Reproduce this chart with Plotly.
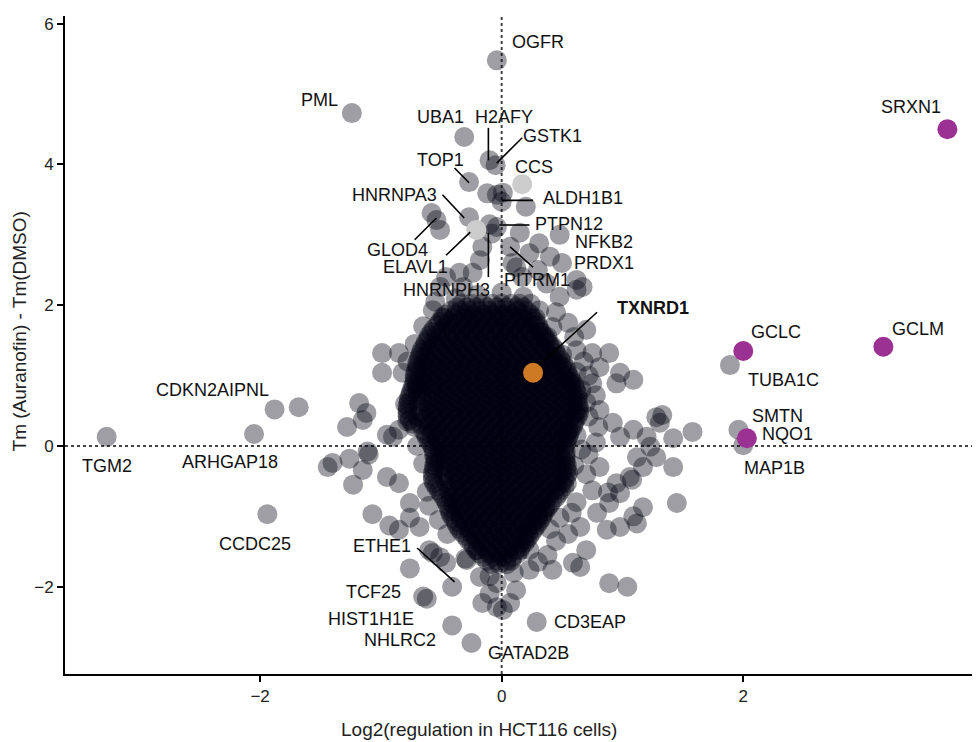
import plotly.graph_objects as go

# ---------------- data ----------------
# dense central cloud, listed row by row: (Tm shift, [log2 regulation values])
core_rows = [
    (2.02, [-0.33, -0.25, -0.16, -0.08, 0.0, 0.08, 0.15]),
    (1.97, [-0.37, -0.29, -0.21, -0.12, -0.04, 0.04, 0.12, 0.18]),
    (1.92, [-0.42, -0.34, -0.27, -0.19, -0.11, -0.03, 0.05, 0.13, 0.21]),
    (1.87, [-0.46, -0.38, -0.30, -0.23, -0.15, -0.07, 0.01, 0.09, 0.17, 0.24]),
    (1.82, [-0.48, -0.40, -0.31, -0.23, -0.15, -0.07, 0.01, 0.09, 0.17, 0.25]),
    (1.77, [-0.51, -0.44, -0.35, -0.27, -0.19, -0.11, -0.03, 0.05, 0.13, 0.21, 0.28]),
    (1.72, [-0.53, -0.45, -0.37, -0.29, -0.21, -0.13, -0.05, 0.03, 0.11, 0.19, 0.27, 0.30]),
    (1.67, [-0.56, -0.49, -0.41, -0.33, -0.25, -0.17, -0.09, -0.01, 0.07, 0.15, 0.23, 0.31]),
    (1.62, [-0.58, -0.50, -0.41, -0.33, -0.25, -0.17, -0.09, -0.01, 0.07, 0.15, 0.23, 0.31, 0.33]),
    (1.57, [-0.60, -0.54, -0.45, -0.37, -0.29, -0.21, -0.13, -0.05, 0.03, 0.11, 0.19, 0.27, 0.35]),
    (1.52, [-0.61, -0.53, -0.45, -0.37, -0.29, -0.21, -0.13, -0.05, 0.03, 0.11, 0.19, 0.27, 0.35, 0.37]),
    (1.47, [-0.63, -0.57, -0.49, -0.41, -0.33, -0.25, -0.17, -0.09, -0.01, 0.07, 0.15, 0.23, 0.31, 0.39]),
    (1.42, [-0.64, -0.56, -0.48, -0.40, -0.32, -0.24, -0.16, -0.08, 0.0, 0.08, 0.16, 0.24, 0.32, 0.40, 0.42]),
    (1.37, [-0.66, -0.60, -0.52, -0.44, -0.36, -0.28, -0.20, -0.12, -0.04, 0.04, 0.12, 0.20, 0.28, 0.36, 0.44]),
    (1.32, [-0.67, -0.59, -0.51, -0.43, -0.35, -0.27, -0.19, -0.11, -0.03, 0.05, 0.13, 0.21, 0.29, 0.37, 0.45]),
    (1.27, [-0.68, -0.63, -0.55, -0.47, -0.39, -0.31, -0.23, -0.15, -0.07, 0.01, 0.09, 0.17, 0.25, 0.33, 0.41, 0.47]),
    (1.22, [-0.69, -0.61, -0.53, -0.45, -0.37, -0.29, -0.21, -0.13, -0.05, 0.03, 0.11, 0.19, 0.27, 0.35, 0.43, 0.49]),
    (1.17, [-0.70, -0.65, -0.57, -0.49, -0.41, -0.33, -0.25, -0.17, -0.09, -0.01, 0.07, 0.15, 0.23, 0.31, 0.39, 0.47, 0.51]),
    (1.12, [-0.70, -0.62, -0.54, -0.46, -0.38, -0.30, -0.22, -0.14, -0.06, 0.02, 0.10, 0.18, 0.26, 0.34, 0.42, 0.50, 0.53]),
    (1.07, [-0.71, -0.66, -0.58, -0.50, -0.42, -0.34, -0.26, -0.18, -0.10, -0.02, 0.06, 0.14, 0.22, 0.30, 0.38, 0.46, 0.54]),
    (1.02, [-0.72, -0.64, -0.56, -0.48, -0.40, -0.32, -0.24, -0.16, -0.08, 0.0, 0.08, 0.16, 0.24, 0.34, 0.42, 0.50, 0.55]),
    (0.97, [-0.72, -0.68, -0.60, -0.52, -0.44, -0.36, -0.28, -0.20, -0.12, -0.04, 0.04, 0.12, 0.20, 0.28, 0.36, 0.44, 0.52, 0.57]),
    (0.92, [-0.72, -0.64, -0.56, -0.48, -0.40, -0.32, -0.24, -0.16, -0.08, 0.0, 0.08, 0.16, 0.24, 0.32, 0.40, 0.48, 0.56, 0.58]),
    (0.87, [-0.73, -0.70, -0.62, -0.54, -0.46, -0.38, -0.30, -0.22, -0.14, -0.06, 0.02, 0.10, 0.18, 0.26, 0.34, 0.42, 0.50, 0.58, 0.60]),
    (0.82, [-0.74, -0.66, -0.58, -0.50, -0.42, -0.34, -0.26, -0.18, -0.10, -0.02, 0.06, 0.14, 0.22, 0.30, 0.38, 0.46, 0.54, 0.61]),
    (0.77, [-0.75, -0.70, -0.62, -0.54, -0.46, -0.38, -0.30, -0.22, -0.14, -0.06, 0.02, 0.10, 0.18, 0.26, 0.34, 0.42, 0.50, 0.58, 0.62]),
    (0.72, [-0.76, -0.66, -0.57, -0.49, -0.41, -0.33, -0.25, -0.17, -0.09, -0.01, 0.07, 0.15, 0.23, 0.31, 0.39, 0.47, 0.55, 0.63]),
    (0.67, [-0.77, -0.70, -0.61, -0.53, -0.45, -0.37, -0.29, -0.21, -0.13, -0.05, 0.03, 0.11, 0.19, 0.27, 0.35, 0.43, 0.51, 0.59, 0.63]),
    (0.62, [-0.77, -0.65, -0.57, -0.49, -0.41, -0.33, -0.25, -0.17, -0.09, -0.01, 0.07, 0.15, 0.23, 0.31, 0.39, 0.47, 0.55, 0.63]),
    (0.57, [-0.78, -0.69, -0.61, -0.53, -0.45, -0.37, -0.29, -0.21, -0.13, -0.05, 0.03, 0.11, 0.19, 0.27, 0.35, 0.43, 0.51, 0.59, 0.64]),
    (0.52, [-0.78, -0.63, -0.55, -0.47, -0.39, -0.31, -0.23, -0.15, -0.07, 0.01, 0.09, 0.17, 0.25, 0.33, 0.41, 0.49, 0.57, 0.64]),
    (0.47, [-0.78, -0.67, -0.59, -0.51, -0.43, -0.35, -0.27, -0.19, -0.11, -0.03, 0.05, 0.13, 0.21, 0.29, 0.37, 0.45, 0.53, 0.61, 0.64]),
    (0.42, [-0.78, -0.70, -0.62, -0.54, -0.46, -0.38, -0.30, -0.22, -0.14, -0.06, 0.02, 0.10, 0.18, 0.26, 0.34, 0.42, 0.50, 0.58, 0.63]),
    (0.37, [-0.76, -0.64, -0.56, -0.48, -0.40, -0.32, -0.24, -0.16, -0.08, 0.0, 0.08, 0.16, 0.24, 0.32, 0.40, 0.48, 0.56, 0.61]),
    (0.32, [-0.74, -0.68, -0.60, -0.52, -0.44, -0.36, -0.28, -0.20, -0.12, -0.04, 0.04, 0.12, 0.20, 0.28, 0.36, 0.44, 0.52, 0.60]),
    (0.27, [-0.72, -0.61, -0.53, -0.45, -0.37, -0.29, -0.21, -0.13, -0.05, 0.03, 0.11, 0.19, 0.27, 0.35, 0.43, 0.51, 0.59]),
    (0.22, [-0.65, -0.57, -0.49, -0.41, -0.33, -0.25, -0.17, -0.09, -0.01, 0.07, 0.15, 0.23, 0.31, 0.39, 0.47, 0.55, 0.57]),
    (0.17, [-0.63, -0.58, -0.50, -0.42, -0.34, -0.26, -0.18, -0.10, -0.02, 0.06, 0.14, 0.22, 0.30, 0.38, 0.46, 0.54, 0.56]),
    (0.12, [-0.62, -0.54, -0.46, -0.38, -0.30, -0.22, -0.14, -0.06, 0.02, 0.10, 0.18, 0.26, 0.34, 0.42, 0.50, 0.55]),
    (0.07, [-0.60, -0.54, -0.46, -0.38, -0.30, -0.22, -0.14, -0.06, 0.02, 0.10, 0.18, 0.26, 0.34, 0.42, 0.50, 0.54]),
    (0.02, [-0.58, -0.50, -0.42, -0.34, -0.26, -0.18, -0.10, -0.02, 0.06, 0.14, 0.22, 0.30, 0.38, 0.46, 0.53]),
    (-0.03, [-0.57, -0.52, -0.44, -0.36, -0.28, -0.20, -0.12, -0.04, 0.04, 0.12, 0.20, 0.28, 0.36, 0.44, 0.52]),
    (-0.08, [-0.56, -0.48, -0.40, -0.32, -0.24, -0.16, -0.08, 0.0, 0.08, 0.16, 0.24, 0.32, 0.40, 0.48, 0.53]),
    (-0.13, [-0.56, -0.51, -0.43, -0.35, -0.27, -0.19, -0.11, -0.03, 0.05, 0.13, 0.21, 0.29, 0.37, 0.45, 0.53]),
    (-0.18, [-0.55, -0.47, -0.39, -0.31, -0.23, -0.15, -0.07, 0.01, 0.09, 0.17, 0.25, 0.33, 0.41, 0.49, 0.53]),
    (-0.23, [-0.55, -0.51, -0.43, -0.35, -0.27, -0.19, -0.11, -0.03, 0.05, 0.13, 0.21, 0.29, 0.37, 0.45, 0.53]),
    (-0.28, [-0.56, -0.47, -0.39, -0.31, -0.23, -0.15, -0.07, 0.01, 0.09, 0.17, 0.25, 0.33, 0.41, 0.49, 0.54]),
    (-0.33, [-0.56, -0.50, -0.42, -0.34, -0.26, -0.18, -0.10, -0.02, 0.06, 0.14, 0.22, 0.30, 0.38, 0.46, 0.54]),
    (-0.38, [-0.57, -0.46, -0.38, -0.30, -0.22, -0.14, -0.06, 0.02, 0.10, 0.18, 0.26, 0.34, 0.42, 0.50, 0.55]),
    (-0.43, [-0.57, -0.48, -0.40, -0.32, -0.24, -0.16, -0.08, 0.0, 0.08, 0.16, 0.24, 0.32, 0.40, 0.48, 0.54]),
    (-0.48, [-0.57, -0.44, -0.36, -0.28, -0.20, -0.12, -0.04, 0.04, 0.12, 0.20, 0.28, 0.36, 0.44, 0.52]),
    (-0.53, [-0.56, -0.46, -0.38, -0.30, -0.22, -0.14, -0.06, 0.02, 0.10, 0.18, 0.26, 0.34, 0.42, 0.50, 0.54]),
    (-0.58, [-0.54, -0.42, -0.34, -0.26, -0.18, -0.10, -0.02, 0.06, 0.14, 0.22, 0.30, 0.38, 0.46, 0.52]),
    (-0.63, [-0.52, -0.44, -0.36, -0.28, -0.20, -0.12, -0.04, 0.04, 0.12, 0.20, 0.28, 0.36, 0.44, 0.49]),
    (-0.68, [-0.50, -0.40, -0.32, -0.24, -0.16, -0.08, 0.0, 0.08, 0.16, 0.24, 0.32, 0.40, 0.47]),
    (-0.73, [-0.48, -0.42, -0.34, -0.26, -0.18, -0.10, -0.02, 0.06, 0.14, 0.22, 0.30, 0.38, 0.45]),
    (-0.78, [-0.46, -0.38, -0.30, -0.22, -0.14, -0.06, 0.02, 0.10, 0.18, 0.26, 0.34, 0.42]),
    (-0.83, [-0.45, -0.40, -0.32, -0.24, -0.16, -0.08, 0.0, 0.08, 0.16, 0.24, 0.32, 0.40]),
    (-0.88, [-0.44, -0.36, -0.28, -0.20, -0.12, -0.04, 0.04, 0.12, 0.20, 0.28, 0.36, 0.38]),
    (-0.93, [-0.43, -0.38, -0.30, -0.22, -0.14, -0.06, 0.02, 0.10, 0.18, 0.26, 0.34, 0.36]),
    (-0.98, [-0.42, -0.34, -0.26, -0.18, -0.10, -0.02, 0.06, 0.14, 0.22, 0.30, 0.34]),
    (-1.03, [-0.40, -0.34, -0.26, -0.18, -0.10, -0.02, 0.06, 0.14, 0.22, 0.30, 0.33]),
    (-1.08, [-0.38, -0.30, -0.22, -0.14, -0.06, 0.02, 0.10, 0.18, 0.26, 0.31]),
    (-1.13, [-0.37, -0.31, -0.23, -0.15, -0.07, 0.01, 0.09, 0.17, 0.25, 0.29]),
    (-1.18, [-0.35, -0.27, -0.19, -0.11, -0.03, 0.05, 0.13, 0.21, 0.27]),
    (-1.23, [-0.33, -0.26, -0.18, -0.10, -0.02, 0.06, 0.14, 0.22, 0.25]),
    (-1.28, [-0.30, -0.22, -0.14, -0.06, 0.02, 0.10, 0.18, 0.23]),
    (-1.33, [-0.28, -0.21, -0.13, -0.05, 0.03, 0.11, 0.19, 0.21]),
    (-1.38, [-0.25, -0.17, -0.09, -0.01, 0.07, 0.15, 0.19]),
    (-1.43, [-0.23, -0.16, -0.08, 0.0, 0.08, 0.16]),
    (-1.48, [-0.20, -0.12, -0.04, 0.04, 0.12, 0.15]),
    (-1.53, [-0.18, -0.10, -0.02, 0.06, 0.13]),
    (-1.58, [-0.15, -0.07, 0.01, 0.09]),
    (-1.63, [-0.12, -0.04, 0.04, 0.08]),
    (-1.68, [-0.08, -0.02, 0.04]),
]

# proteins around and outside the central cloud: (log2 regulation, Tm shift)
periphery = [
    (-0.04, 5.48), (-1.24, 4.73), (-0.31, 4.39), (-0.10, 4.06), (-0.05, 3.99),
    (-0.27, 3.75), (-0.12, 3.59), (-0.04, 3.57), (0.01, 3.60), (0.00, 3.47),
    (0.20, 3.40), (-0.58, 3.31), (-0.54, 3.21), (-0.51, 3.07), (-0.27, 3.25),
    (-0.10, 3.15), (-0.04, 3.11), (-0.08, 3.02), (0.15, 3.03), (0.48, 3.00),
    (0.07, 2.83), (0.31, 2.88), (0.23, 2.74), (0.40, 2.69), (0.50, 2.60),
    (0.62, 2.36), (0.67, 2.26), (0.12, 2.54), (0.17, 2.40), (-0.16, 2.83),
    (-0.18, 2.64), (-0.24, 2.46), (-0.35, 2.46), (-0.46, 2.40), (-0.51, 2.26),
    (-0.32, 2.26), (0.09, 2.60), (0.30, 2.50), (0.37, 2.31), (0.48, 2.12),
    (0.62, 2.22), (-0.57, 1.93), (-0.49, 1.83), (0.31, 1.93), (0.42, 1.69),
    (0.70, 1.65), (0.62, 1.36), (0.75, 1.32), (0.89, 1.32), (0.81, 1.12),
    (0.98, 1.04), (1.09, 0.94), (0.95, 0.89), (0.75, 0.89), (0.81, 0.51),
    (0.80, 0.27), (-0.99, 1.32), (-0.85, 1.32), (-0.99, 1.04), (-0.82, 1.04),
    (-0.70, 0.84), (-1.18, 0.61), (-1.12, 0.47), (-1.15, 0.37), (-1.28, 0.27),
    (-0.85, 0.23), (-0.90, 0.13), (-0.95, 0.16), (-1.40, -0.24), (-1.26, -0.18),
    (-1.10, -0.12), (-1.11, -0.08), (-1.15, -0.34), (-1.23, -0.55), (-0.95, -0.44),
    (-0.85, -0.53), (-0.76, -0.81), (-1.07, -0.97), (-0.93, -1.13), (-0.76, -1.02),
    (-0.68, -1.15), (-0.85, -1.19), (-0.60, -1.48), (-0.51, -1.58), (-0.76, -1.74),
    (-0.57, -1.52), (-0.46, -1.66), (-0.41, -2.00), (-0.65, -2.14), (-0.62, -2.17),
    (-0.41, -2.55), (-0.25, -2.80), (0.29, -2.50), (-0.04, -1.95), (-0.10, -2.10),
    (-0.04, -2.29), (0.01, -2.33), (-0.16, -2.23), (0.07, -2.23), (0.12, -2.05),
    (0.23, -1.76), (0.42, -1.76), (0.65, -1.72), (0.89, -1.95), (1.04, -2.00),
    (-0.18, -1.86), (-0.29, -1.62), (0.23, -1.48), (-0.21, -1.48), (0.70, -1.48),
    (0.59, -1.66), (0.65, -1.15), (0.87, -1.19), (0.98, -1.15), (1.09, -1.00),
    (1.12, -1.10), (0.79, -0.95), (1.17, -0.87), (1.45, -0.81), (0.89, -0.81),
    (0.75, -0.63), (0.95, -0.53), (1.06, -0.44), (0.98, -0.67), (0.88, -0.66),
    (0.81, -0.30), (1.08, -0.48), (1.17, -0.30), (1.42, -0.30), (1.12, -0.16),
    (1.28, -0.16), (1.23, -0.01), (0.98, 0.13), (1.20, 0.13), (1.42, 0.11),
    (1.09, 0.23), (1.58, 0.20), (0.92, 0.33), (1.31, 0.33), (1.33, 0.44),
    (1.28, 0.41), (1.96, 0.23), (2.00, 0.01), (1.89, 1.15), (-3.27, 0.13),
    (-1.88, 0.52), (-1.68, 0.55), (-2.05, 0.17), (-1.94, -0.97), (-1.44, -0.30),
    (0.70, 0.62), (0.78, 0.72), (0.72, 0.42), (0.78, 0.05), (0.72, -0.12),
    (0.70, -0.40), (0.62, -0.80), (0.58, -0.95), (0.55, -1.25), (0.45, -1.35),
    (0.38, -1.55), (-0.45, -1.25), (-0.52, -1.05), (-0.60, -0.85), (-0.62, -0.65),
    (-0.65, -0.25), (-0.70, 0.00), (-0.78, 0.35), (-0.80, 0.60), (-0.78, 1.20),
    (-0.72, 1.45), (-0.65, 1.70), (-0.55, 2.05), (-0.38, 2.10), (-0.20, 2.15),
    (0.00, 2.18), (0.18, 2.12), (0.45, 1.90), (0.55, 1.75), (0.60, 1.55),
    (0.68, 1.20), (0.72, 1.00), (-0.30, -1.60), (0.30, -1.65), (-0.10, -1.85),
    (0.10, -1.80), (0.38, 1.55), (0.50, 1.30), (0.62, 1.05), (0.66, 0.80),
    (0.62, 0.15), (0.66, -0.05), (0.60, -0.28), (0.48, -1.02), (0.40, -1.18),
    (0.28, 1.82), (0.24, 2.02),
]

# proteins without a regulation class (light grey)
na_x = [0.17, -0.21]
na_y = [3.72, 3.07]

# NRF2 targets (magenta)
nrf2_genes = ["SRXN1", "GCLC", "GCLM", "NQO1"]
nrf2_x = [3.69, 2.00, 3.16, 2.03]
nrf2_y = [4.50, 1.35, 1.41, 0.11]

# auranofin target (orange)
target_gene = ["TXNRD1"]
target_x = [0.26]
target_y = [1.04]

# gene labels (text centre positions)
label_text = ["OGFR", "PML", "UBA1", "H2AFY", "GSTK1", "TOP1", "CCS", "ALDH1B1",
              "HNRNPA3", "PTPN12", "NFKB2", "PRDX1", "GLOD4", "ELAVL1", "HNRNPH3",
              "PITRM1", "<b>TXNRD1</b>", "GCLC", "GCLM", "TUBA1C", "SMTN", "NQO1",
              "MAP1B", "SRXN1", "CDKN2AIPNL", "TGM2", "ARHGAP18", "CCDC25", "ETHE1",
              "TCF25", "HIST1H1E", "NHLRC2", "CD3EAP", "GATAD2B"]
label_x = [0.30, -1.51, -0.51, 0.02, 0.42, -0.51, 0.27, 0.67,
           -0.89, 0.56, 0.85, 0.85, -0.86, -0.71, -0.46,
           0.29, 1.25, 2.27, 3.45, 2.33, 2.28, 2.37,
           2.26, 3.39, -2.39, -3.27, -2.25, -2.04, -0.99,
           -1.06, -1.08, -0.84, 0.73, 0.22]
label_y = [5.74, 4.91, 4.67, 4.67, 4.40, 4.06, 3.96, 3.52,
           3.57, 3.15, 2.90, 2.60, 2.79, 2.54, 2.22,
           2.36, 1.96, 1.62, 1.66, 0.94, 0.43, 0.17,
           -0.31, 4.82, 0.80, -0.28, -0.23, -1.39, -1.42,
           -2.07, -2.46, -2.76, -2.50, -2.94]

# label connector segments
seg_x0 = [-0.11, 0.17, -0.39, -0.49, 0.00, -0.02, -0.72, -0.46, -0.11, 0.07, 0.31, -0.70]
seg_y0 = [4.52, 4.38, 3.95, 3.57, 3.49, 3.14, 2.93, 2.71, 3.03, 2.83, 1.15, -1.45]
seg_x1 = [-0.11, -0.04, -0.27, -0.31, 0.26, 0.23, -0.54, -0.26, -0.11, 0.26, 0.79, -0.39]
seg_y1 = [4.06, 4.02, 3.74, 3.24, 3.49, 3.14, 3.24, 3.04, 2.40, 2.54, 1.90, -1.93]

X_RANGE = [-3.615, 3.96]
Y_RANGE = [-3.24, 6.11]

# ---------------- figure ----------------
FONT = "Liberation Sans, Arial, Helvetica, sans-serif"

grey_x = [x for (y, xs) in core_rows for x in xs] + [p[0] for p in periphery]
grey_y = [y for (y, xs) in core_rows for x in xs] + [p[1] for p in periphery]

fig = go.Figure()
fig.add_trace(go.Scatter(
    x=grey_x, y=grey_y, mode="markers",
    marker=dict(size=20, color="rgb(0,0,16)", opacity=0.38, line=dict(width=0)),
    hoverinfo="skip", showlegend=False))
fig.add_trace(go.Scatter(
    x=na_x, y=na_y, mode="markers",
    marker=dict(size=20, color="rgb(204,204,204)", line=dict(width=0)),
    showlegend=False))
fig.add_trace(go.Scatter(
    x=nrf2_x, y=nrf2_y, mode="markers", text=nrf2_genes,
    marker=dict(size=20, color="rgb(156,49,148)", line=dict(width=0)),
    showlegend=False))
fig.add_trace(go.Scatter(
    x=target_x, y=target_y, mode="markers", text=target_gene,
    marker=dict(size=20, color="rgb(206,121,36)", line=dict(width=0)),
    showlegend=False))

# connector lines
lx, ly = [], []
for a, b, c, d in zip(seg_x0, seg_y0, seg_x1, seg_y1):
    lx += [a, c, None]
    ly += [b, d, None]
fig.add_trace(go.Scatter(x=lx, y=ly, mode="lines",
                         line=dict(color="black", width=1.6),
                         hoverinfo="skip", showlegend=False))

# reference dotted lines (drawn beneath the points)
fig.add_shape(type="line", x0=0, x1=0, y0=Y_RANGE[0], y1=Y_RANGE[1], xref="x", yref="y",
              line=dict(color="#444444", width=2, dash="dot"), layer="below")
fig.add_shape(type="line", x0=X_RANGE[0], x1=X_RANGE[1], y0=0, y1=0, xref="x", yref="y",
              line=dict(color="#444444", width=2, dash="dot"), layer="below")

for t, x, y in zip(label_text, label_x, label_y):
    fig.add_annotation(x=x, y=y, text=t, showarrow=False, xanchor="center", yanchor="middle",
                       font=dict(family=FONT, size=18, color="#111111"))

# axis titles
fig.add_annotation(x=0.452, y=-0.085, xref="paper", yref="paper",
                   text="Log2(regulation in HCT116 cells)", showarrow=False,
                   xanchor="center", yanchor="middle",
                   font=dict(family=FONT, size=19, color="#222222"))
fig.add_annotation(x=-0.050, y=0.521, xref="paper", yref="paper", textangle=-90,
                   text="Tm (Auranofin) - Tm(DMSO)", showarrow=False,
                   xanchor="center", yanchor="middle",
                   font=dict(family=FONT, size=19, color="#222222"))

axis_common = dict(showgrid=False, zeroline=False, showline=True, linecolor="black",
                   linewidth=2, ticks="outside", ticklen=6, tickwidth=2, tickcolor="black",
                   tickfont=dict(family=FONT, size=17, color="#222222"))
fig.update_xaxes(range=X_RANGE, tickvals=[-2, 0, 2, 4], **axis_common)
fig.update_yaxes(range=Y_RANGE, tickvals=[-2, 0, 2, 4, 6], **axis_common)

# the page body has an 8px margin, so the figure is 8px smaller on each side
fig.update_layout(width=972, height=734,
                  margin=dict(l=57, r=0, t=8, b=68),
                  paper_bgcolor="white", plot_bgcolor="white",
                  font=dict(family=FONT), showlegend=False)

fig.write_html("out.html")
